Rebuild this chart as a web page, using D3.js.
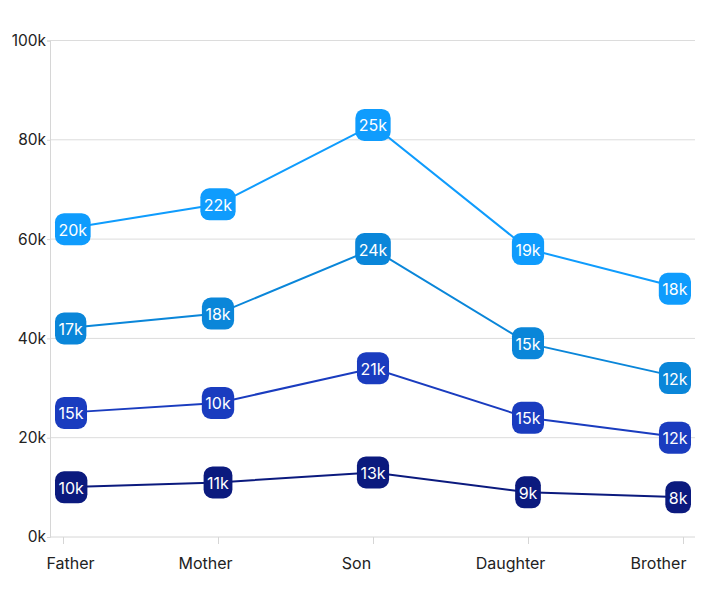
<!DOCTYPE html>
<html><head><meta charset="utf-8">
<script src="https://cdn.jsdelivr.net/npm/d3@7/dist/d3.min.js"></script>
<style>body{margin:0;background:#fff;font-family:Inter,"Noto Sans",sans-serif;}</style>
</head><body><svg id="c" width="706" height="596"></svg>
<script>
const categories = ["Father","Mother","Son","Daughter","Brother"];
const series1 = [10, 11, 13, 9, 8];
const series2 = [15, 16, 21, 15, 12];
const series3 = [17, 18, 24, 15, 12];
const series4 = [20, 22, 25, 19, 18];
const labels2 = ["15k","10k","21k","15k","12k"];
const yTicks = [0, 20, 40, 60, 80, 100];
const catLabelShift = [7, -13, -17, -18, -25];
const colors = ["#0b1a7e", "#1a3cbf", "#0a86d9", "#0f9cfd"];

const seriesList = [series1, series2, series3, series4];
const labelList = [series1.map(v=>v+"k"), labels2, series3.map(v=>v+"k"), series4.map(v=>v+"k")];
const rows = categories.map((c,i)=>{const o={cat:c}; seriesList.forEach((s,j)=>o["s"+j]=s[i]); return o;});
const stacked = d3.stack().keys(seriesList.map((s,j)=>"s"+j))(rows);

const svg = d3.select("#c");
const pLeft = 50, pRight = 695, pTop = 40.5, pBottom = 537;
const x = d3.scalePoint().domain(categories).range([63, 683]);
const y = d3.scaleLinear().domain([0, 100]).range([pBottom, pTop]);

// gridlines
svg.append("g").selectAll("line").data(yTicks.filter(t=>t>0)).join("line")
  .attr("x1", pLeft).attr("x2", pRight).attr("y1", d=>y(d)).attr("y2", d=>y(d))
  .attr("stroke", "#dcdcdc").attr("stroke-width", 1);

// y axis
const ya = svg.append("g").attr("transform", `translate(${pLeft},0)`)
  .call(d3.axisLeft(y).tickValues(yTicks).tickFormat(d=>d+"k").tickSize(3).tickPadding(1));
ya.select(".domain").attr("stroke", "#d6d6d6");
ya.selectAll(".tick line").attr("stroke", "#d6d6d6");
ya.selectAll("text").attr("font-family", "Inter").attr("font-size", 15.5).attr("fill", "#222");

// x axis
const xa = svg.append("g").attr("transform", `translate(0,${pBottom})`)
  .call(d3.axisBottom(x).tickSize(7).tickPadding(14));
xa.select(".domain").attr("d", `M${pLeft},0H${pRight}`).attr("stroke", "#d6d6d6");
xa.selectAll(".tick line").attr("stroke", "#d6d6d6");
xa.selectAll("text").attr("font-family", "Inter").attr("font-size", 16).attr("fill", "#222")
  .attr("dx", (d,i)=>catLabelShift[i]);

// lines
const line = d3.line().x(d=>x(d.data.cat)).y(d=>y(d[1]));
svg.append("g").selectAll("path").data(stacked).join("path")
  .attr("d", line).attr("fill", "none")
  .attr("stroke", (d,i)=>colors[i]).attr("stroke-width", 2);

// labels
stacked.forEach((s,j)=>{
  const g = svg.append("g");
  s.forEach((d,i)=>{
    const txt = labelList[j][i];
    const t = g.append("text").text(txt).attr("font-family","Inter").attr("font-size",16)
      .attr("fill","#fff").attr("text-anchor","middle").attr("dominant-baseline","central");
    const w = Math.max(t.node().getComputedTextLength() + 7, 23);
    const h = 32;
    let cx = x(d.data.cat);
    cx = Math.max(pLeft + 5 + w/2, Math.min(pRight - 4 - w/2, cx));
    const cy = y(d[1]);
    g.insert("rect", "text:last-child").attr("x", cx - w/2).attr("y", cy - h/2)
      .attr("width", w).attr("height", h).attr("rx", Math.min(9, w/2)).attr("fill", colors[j]);
    t.attr("x", cx).attr("y", cy + 0.5);
  });
});
</script></body></html>
